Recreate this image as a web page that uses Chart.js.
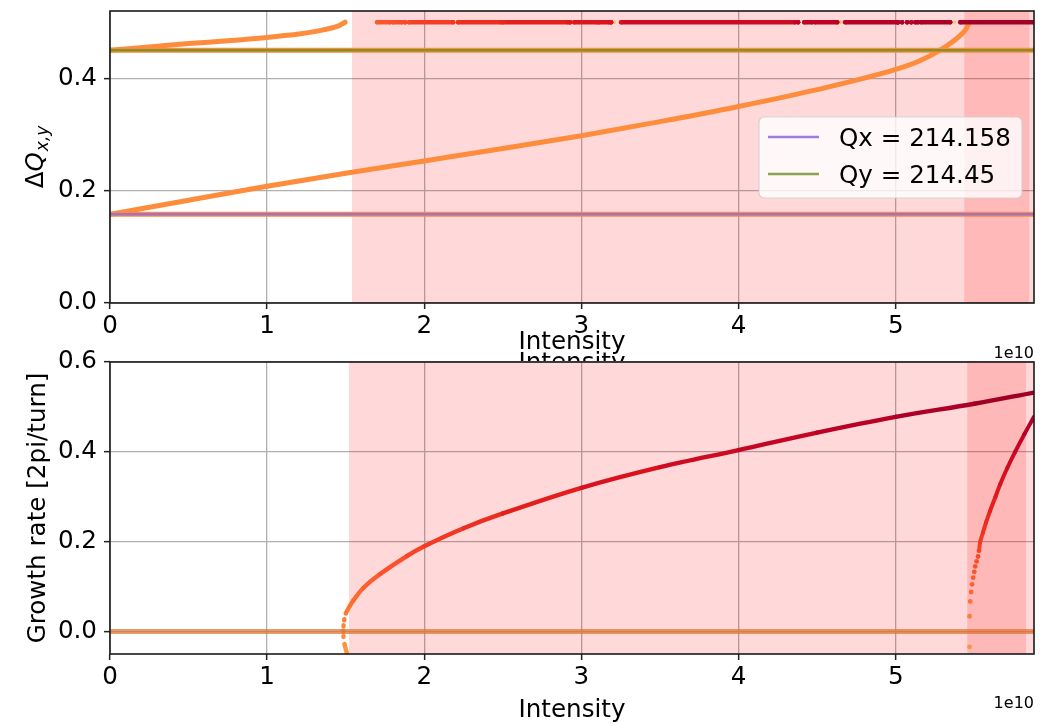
<!DOCTYPE html>
<html>
<head>
<meta charset="utf-8">
<title>Tune shift and growth rate vs intensity</title>
<script src="https://cdn.jsdelivr.net/npm/chart.js@4/dist/chart.umd.min.js"></script>
<style>
  html, body { margin: 0; padding: 0; background: #fff; }
  #wrap { position: relative; width: 1056px; height: 724px; overflow: hidden; background: #fff; }
  canvas { position: absolute; left: 0; }
  #tune { top: 0; }
  #growth { top: 340px; }
</style>
</head>
<body>
<div id="wrap">
  <canvas id="tune" width="1056" height="361" style="width:1056px;height:361px"></canvas>
  <canvas id="growth" width="1056" height="384" style="width:1056px;height:384px"></canvas>
</div>
<script>
// Intensity is stored in units of 1e10 (the axis offset label).
const X_MAX = 5.88;
const xTicks = [0, 1, 2, 3, 4, 5];
const tuneTicks = [0, 0.2, 0.4];
const growthTicks = [0, 0.2, 0.4, 0.6];

// Machine tunes and their fractional parts
const QX = 214.158;
const QY = 214.45;
const qxFrac = 0.158;
const qyFrac = 0.45;

// Coherent mode tunes (fractional), top panel
const lowerModeX = [0, 0.5, 1, 1.5, 2, 2.5, 3, 3.5, 4, 4.5, 5, 5.15, 5.28, 5.37, 5.42, 5.45, 5.468];
const lowerModeY = [0.158, 0.183, 0.208, 0.231, 0.253, 0.275, 0.298, 0.323, 0.35, 0.38, 0.416, 0.431, 0.45, 0.467, 0.479, 0.489, 0.5];

const upperModeX = [0, 0.25, 0.5, 0.75, 1, 1.2, 1.35, 1.45, 1.496];
const upperModeY = [0.45, 0.456, 0.462, 0.467, 0.473, 0.479, 0.486, 0.493, 0.5];

// Unstable modes sitting on the half-integer tune: [start, end] intensity runs
const halfTuneRuns = [
  [1.700, 1.782], [1.801, 1.859], [1.878, 1.878], [1.903, 2.183], [2.215, 2.489],
  [2.502, 2.915], [2.928, 2.928], [2.954, 3.100], [3.113, 3.176], [3.189, 3.189],
  [3.253, 4.360], [4.379, 4.379], [4.418, 4.468], [4.487, 4.628], [4.679, 5.010],
  [5.016, 5.016], [5.041, 5.041], [5.073, 5.073], [5.099, 5.099], [5.124, 5.143],
  [5.162, 5.347], [5.411, 5.88]
];
// Stable modes on the half-integer tune
const halfTuneStableX = [2.202, 3.208, 4.645, 4.665, 5.372];
const HALF_TUNE = 0.5;

// Growth rates, bottom panel
const growthAX = [1.507, 1.494, 1.486, 1.485, 1.486, 1.49, 1.5, 1.528, 1.55, 1.612, 1.719, 1.889, 2.0, 2.25, 2.5, 3.0, 3.5, 4.0, 4.5, 5.0, 5.5, 5.88];
const growthAY = [-0.048, -0.03, -0.012, 0.0, 0.012, 0.025, 0.04, 0.058, 0.07, 0.097, 0.128, 0.168, 0.19, 0.23, 0.263, 0.32, 0.366, 0.404, 0.443, 0.478, 0.507, 0.532];

const growthBX = [5.470, 5.470, 5.474, 5.480, 5.486, 5.493, 5.500, 5.506, 5.515, 5.524, 5.530, 5.538, 5.555, 5.575, 5.60, 5.635, 5.665, 5.71, 5.76, 5.82, 5.88];
const growthBY = [-0.034, 0.034, 0.067, 0.088, 0.105, 0.12, 0.133, 0.145, 0.156, 0.167, 0.18, 0.2, 0.22, 0.243, 0.268, 0.3, 0.328, 0.364, 0.4, 0.44, 0.478];

const stableGrowth = 0;

// Instability regions (intensity ranges)
const tuneSpans = [[1.54, 6.0], [5.436, 5.85]];
const growthSpans = [[1.521, 6.0], [5.455, 5.83]];

// ---- styling helpers ----
const FONT = "'DejaVu Sans', 'Liberation Sans', sans-serif";
const FS = 24.6;
const ylorrd = ['#ffffcc', '#ffeda0', '#fed976', '#feb24c', '#fd8d3c', '#fc4e2a', '#e31a1c', '#bd0026', '#800026'];
const hexRgb = h => [parseInt(h.slice(1, 3), 16), parseInt(h.slice(3, 5), 16), parseInt(h.slice(5, 7), 16)];
function cmap(t) {
  t = Math.max(0, Math.min(1, t));
  const p = t * (ylorrd.length - 1);
  const i = Math.min(ylorrd.length - 2, Math.floor(p));
  const f = p - i;
  const a = hexRgb(ylorrd[i]), b = hexRgb(ylorrd[i + 1]);
  const c = a.map((v, k) => Math.round(v + (b[k] - v) * f));
  return `rgb(${c[0]},${c[1]},${c[2]})`;
}
const G_NORM = 0.6;
const growthColor = g => cmap(0.5 + g / (2 * G_NORM));

// growth rate of the first unstable mode, used to colour its tune marks
function growthAt(x) {
  const xs = [], ys = [];
  growthAX.forEach((v, i) => { if (growthAY[i] >= 0.04) { xs.push(v); ys.push(growthAY[i]); } });
  if (x <= xs[0]) return ys[0];
  for (let i = 1; i < xs.length; i++) {
    if (x <= xs[i]) return ys[i - 1] + (ys[i] - ys[i - 1]) * (x - xs[i - 1]) / (xs[i] - xs[i - 1]);
  }
  return ys[ys.length - 1];
}

const pts = (xs, ys) => xs.map((x, i) => ({ x, y: ys[i] }));
const hline = y => [{ x: 0, y }, { x: X_MAX, y }];

const MODE_ORANGE = growthColor(stableGrowth);
const QX_COLOR = 'rgba(147,112,219,0.9)';
const QY_COLOR = 'rgba(107,142,35,0.8)';

function fixedTicks(values) {
  return scale => { scale.ticks = values.map(v => ({ value: v })); };
}

const gridStyle = { color: '#b0b0b0', lineWidth: 1.3, drawTicks: true, tickLength: 6, tickWidth: 1.5, tickColor: '#222' };

function xScale(height) {
  return {
    type: 'linear', min: 0, max: X_MAX,
    afterBuildTicks: fixedTicks(xTicks),
    afterFit: s => { s.height = height; s.paddingLeft = 0; s.paddingRight = 0; },
    grid: gridStyle,
    border: { display: false },
    ticks: { font: { family: FONT, size: FS }, color: '#000', padding: 3, maxRotation: 0, autoSkip: false,
             callback: v => String(Math.round(v)) }
  };
}
function yScale(min, max, values) {
  return {
    type: 'linear', min, max,
    afterBuildTicks: fixedTicks(values),
    afterFit: s => { s.width = 110; s.paddingTop = 0; s.paddingBottom = 0; },
    grid: gridStyle,
    border: { display: false },
    ticks: { font: { family: FONT, size: FS }, color: '#000', padding: 7, autoSkip: false,
             callback: v => v.toFixed(1) }
  };
}

function drawSpans(chart, spans) {
  const { ctx, chartArea: ca, scales: { x } } = chart;
  ctx.save();
  ctx.beginPath(); ctx.rect(ca.left, ca.top, ca.width, ca.height); ctx.clip();
  ctx.fillStyle = 'rgba(255,0,0,0.15)';
  spans.forEach(([a, b]) => {
    const pa = x.getPixelForValue(a), pb = x.getPixelForValue(b);
    ctx.fillRect(pa, ca.top, pb - pa, ca.height);
  });
  ctx.restore();
}
function drawFrame(chart) {
  const { ctx, chartArea: ca } = chart;
  ctx.save();
  ctx.strokeStyle = '#1a1a1a';
  ctx.lineWidth = 1.6;
  ctx.strokeRect(ca.left, ca.top, ca.width, ca.height);
  ctx.restore();
}
function drawOffset(chart, baseline) {
  const { ctx, chartArea: ca } = chart;
  ctx.save();
  ctx.font = `16px ${FONT}`;
  ctx.fillStyle = '#000';
  ctx.textAlign = 'right';
  ctx.textBaseline = 'alphabetic';
  ctx.fillText('1e10', ca.right, baseline);
  ctx.restore();
}
function drawXTitle(chart, baseline) {
  const { ctx, chartArea: ca } = chart;
  ctx.save();
  ctx.font = `${FS}px ${FONT}`;
  ctx.fillStyle = '#000';
  ctx.textAlign = 'center';
  ctx.textBaseline = 'alphabetic';
  ctx.fillText('Intensity', (ca.left + ca.right) / 2, baseline);
  ctx.restore();
}

const tuneDecor = {
  id: 'tuneDecor',
  beforeDatasetsDraw(chart) { drawSpans(chart, tuneSpans); },
  afterDatasetsDraw(chart) { drawFrame(chart); },
  afterDraw(chart) {
    const { ctx, chartArea: ca } = chart;
    // legend
    const bw = 263, bh = 81;
    const bx = ca.right - 12 - bw, by = ca.top + 106;
    ctx.save();
    ctx.beginPath();
    ctx.roundRect(bx, by, bw, bh, 5);
    ctx.fillStyle = 'rgba(255,255,255,0.8)';
    ctx.fill();
    ctx.strokeStyle = 'rgba(204,204,204,0.8)';
    ctx.lineWidth = 1.2;
    ctx.stroke();
    const rows = [[QX_COLOR, `Qx = ${QX}`], [QY_COLOR, `Qy = ${QY}`]];
    rows.forEach(([col, label], i) => {
      const ly = by + 20 + i * 37;
      ctx.strokeStyle = col;
      ctx.lineWidth = 2.5;
      ctx.beginPath(); ctx.moveTo(bx + 9, ly); ctx.lineTo(bx + 60, ly); ctx.stroke();
      ctx.font = `${FS}px ${FONT}`;
      ctx.fillStyle = '#000';
      ctx.textAlign = 'left';
      ctx.textBaseline = 'alphabetic';
      ctx.fillText(label, bx + 80, ly + 9);
    });
    ctx.restore();

    // y title: ΔQ_{x,y}
    ctx.save();
    ctx.translate(43, (ca.top + ca.bottom) / 2);
    ctx.rotate(-Math.PI / 2);
    ctx.fillStyle = '#000';
    ctx.textBaseline = 'alphabetic';
    ctx.textAlign = 'left';
    const fMain = `${FS}px ${FONT}`, fIt = `italic ${FS}px ${FONT}`, fSub = `italic 17px ${FONT}`;
    ctx.font = fMain; const wD = ctx.measureText('\u0394').width;
    ctx.font = fIt; const wQ = ctx.measureText('Q').width;
    ctx.font = fSub; const wS = ctx.measureText('x,y').width;
    let px = -(wD + wQ + 1 + wS) / 2;
    ctx.font = fMain; ctx.fillText('\u0394', px, 0); px += wD;
    ctx.font = fIt; ctx.fillText('Q', px, 0); px += wQ + 1;
    ctx.font = fSub; ctx.fillText('x,y', px, 5);
    ctx.restore();

    drawXTitle(chart, 348.5);
    drawXTitle(chart, 370);
    drawOffset(chart, 358);
  }
};

const growthDecor = {
  id: 'growthDecor',
  beforeDraw(chart) {
    const { ctx, chartArea: ca } = chart;
    ctx.save();
    ctx.fillStyle = '#fff';
    ctx.fillRect(ca.left, ca.top, ca.width, ca.height);
    ctx.restore();
  },
  beforeDatasetsDraw(chart) { drawSpans(chart, growthSpans); },
  afterDatasetsDraw(chart) { drawFrame(chart); },
  afterDraw(chart) {
    const { ctx, chartArea: ca } = chart;
    ctx.save();
    ctx.translate(44.5, (ca.top + ca.bottom) / 2);
    ctx.rotate(-Math.PI / 2);
    ctx.font = `${FS}px ${FONT}`;
    ctx.fillStyle = '#000';
    ctx.textAlign = 'center';
    ctx.textBaseline = 'alphabetic';
    ctx.fillText('Growth rate [2pi/turn]', 0, 0);
    ctx.restore();
    drawXTitle(chart, 376.5);
    drawOffset(chart, 368);
  }
};

const baseOptions = (padTop, xHeight, yMin, yMax, yValues) => ({
  responsive: false,
  animation: false,
  devicePixelRatio: 1,
  layout: { padding: { top: padTop, right: 22, left: 0, bottom: 0 } },
  plugins: { legend: { display: false }, tooltip: { enabled: false } },
  events: [],
  scales: { x: xScale(xHeight), y: yScale(yMin, yMax, yValues) }
});

// half-tune runs as line pieces separated by gaps
const halfTuneData = [];
halfTuneRuns.forEach(([a, b]) => {
  halfTuneData.push({ x: a, y: HALF_TUNE }, { x: b, y: HALF_TUNE }, { x: b, y: null });
});

new Chart(document.getElementById('tune'), {
  type: 'line',
  data: {
    datasets: [
      { label: 'Qx', data: hline(qxFrac), borderColor: QX_COLOR, borderWidth: 2.5, pointRadius: 0, order: 1 },
      { label: 'Qy', data: hline(qyFrac), borderColor: QY_COLOR, borderWidth: 2.5, pointRadius: 0, order: 1 },
      { label: 'half tune', data: halfTuneData, spanGaps: false, borderWidth: 4.4, borderCapStyle: 'round',
        pointRadius: 2.2, pointBorderWidth: 0,
        pointBackgroundColor: c => growthColor(growthAt(c.parsed.x)),
        segment: { borderColor: c => growthColor(growthAt((c.p0.parsed.x + c.p1.parsed.x) / 2)) },
        borderColor: growthColor(0.3), order: 3 },
      { label: 'half tune stable', data: halfTuneStableX.map(x => ({ x, y: HALF_TUNE })), showLine: false,
        pointRadius: 2, pointBorderWidth: 0, pointBackgroundColor: 'rgba(253,190,120,0.9)', order: 3 },
      { label: 'lower mode', data: pts(lowerModeX, lowerModeY), borderColor: MODE_ORANGE, borderWidth: 5,
        borderCapStyle: 'round', borderJoinStyle: 'round', pointRadius: 0,
        cubicInterpolationMode: 'monotone', order: 4 },
      { label: 'upper mode', data: pts(upperModeX, upperModeY), borderColor: MODE_ORANGE, borderWidth: 5,
        borderCapStyle: 'round', borderJoinStyle: 'round', pointRadius: 0,
        cubicInterpolationMode: 'monotone', order: 4 },
      { label: 'mode at Qx', data: hline(qxFrac), borderColor: MODE_ORANGE, borderWidth: 5, pointRadius: 0, order: 5 },
      { label: 'mode at Qy', data: hline(qyFrac), borderColor: MODE_ORANGE, borderWidth: 5, pointRadius: 0, order: 5 }
    ]
  },
  options: baseOptions(11, 58, 0, 0.52, tuneTicks),
  plugins: [tuneDecor]
});

const nearThreshold = c => Math.abs(c.p0.parsed.y) < 0.045 && Math.abs(c.p1.parsed.y) < 0.045;

new Chart(document.getElementById('growth'), {
  type: 'line',
  data: {
    datasets: [
      { label: 'stable modes', data: hline(stableGrowth), borderColor: 'rgba(225,115,50,0.72)', borderWidth: 5,
        pointRadius: 0, order: 1 },
      { label: 'mode A', data: pts(growthAX, growthAY), borderWidth: 4.4, borderCapStyle: 'round',
        borderJoinStyle: 'round', pointRadius: 0, tension: 0.35,
        segment: {
          borderColor: c => growthColor((c.p0.parsed.y + c.p1.parsed.y) / 2),
          borderDash: c => nearThreshold(c) ? [1, 8] : undefined
        },
        borderColor: growthColor(0.3), order: 2 },
      { label: 'mode B', data: pts(growthBX, growthBY), borderWidth: 4, borderCapStyle: 'round',
        borderJoinStyle: 'round', tension: 0.35,
        pointRadius: c => (c.raw && c.raw.y < 0.185) ? 2.4 : 0, pointBorderWidth: 0,
        pointBackgroundColor: c => growthColor(c.raw ? c.raw.y : 0),
        segment: {
          borderColor: c => (c.p1.parsed.y < 0.19) ? 'rgba(0,0,0,0)' : growthColor((c.p0.parsed.y + c.p1.parsed.y) / 2)
        },
        borderColor: growthColor(0.4), order: 2 }
    ]
  },
  options: baseOptions(22, 70, -0.05, 0.6, growthTicks),
  plugins: [growthDecor]
});
</script>
</body>
</html>
